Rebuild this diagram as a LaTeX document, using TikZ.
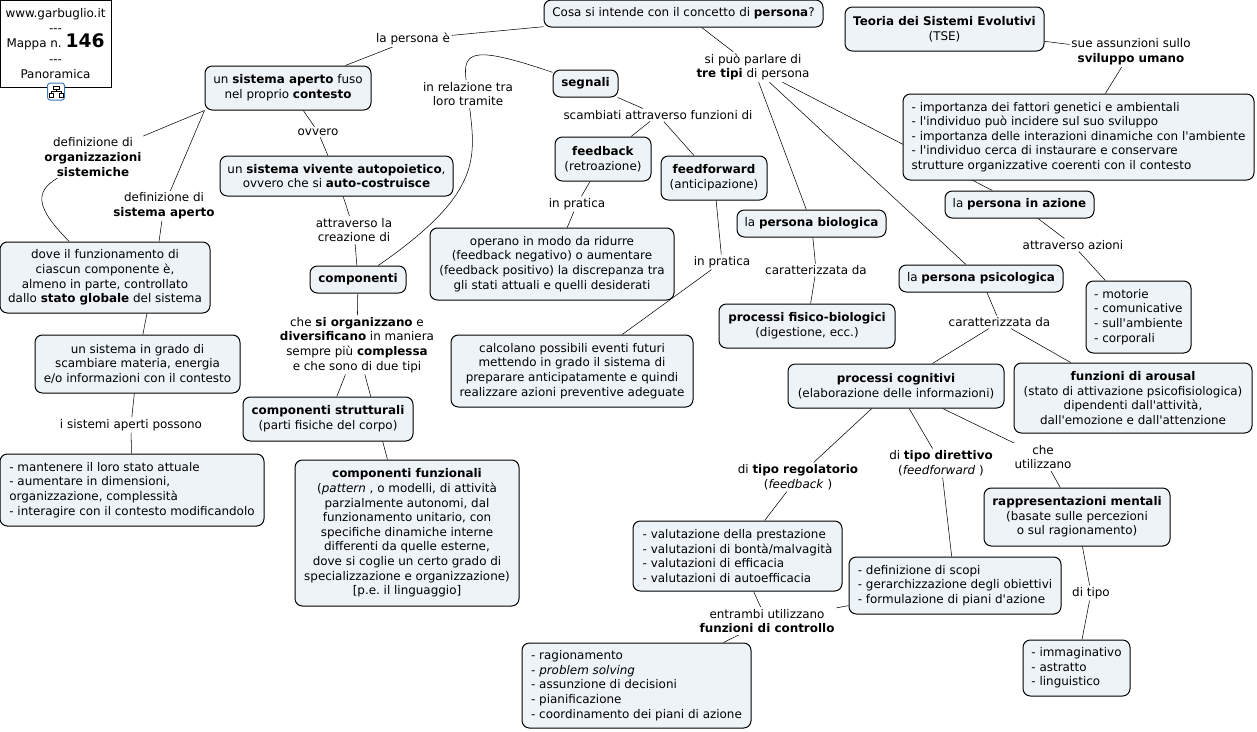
\documentclass[tikz,border=0pt]{standalone}
\usepackage{fontspec}
\setmainfont[Ligatures=TeXOff]{DejaVu Sans}
\usepackage{xcolor}
\usepackage{tikz}
\usetikzlibrary{backgrounds}
\definecolor{boxfill}{HTML}{EDF3F6}
\definecolor{iconblue}{HTML}{3A78B8}
\tikzset{
  mapfont/.style={font=\fontsize{8.95}{10.95}\selectfont},
  boxsize/.style 2 args={minimum width=#1*0.75pt,minimum height=#2*0.75pt},
  conceptbox/.style={draw=black,line width=0.75pt,fill=boxfill,rounded corners=5.5pt,inner sep=0pt,mapfont,align=center},
  listbox/.style={conceptbox,align=left},
  linklabel/.style={fill=white,inner sep=1.2pt,mapfont,align=center},
  maplink/.style={line width=0.75pt,black}
}
\frenchspacing
\begin{document}
\begin{tikzpicture}[x=0.75pt,y=-0.75pt]
\useasboundingbox (0,0) rectangle (1257,732);
% site box with the map number
\node[draw=black,line width=0.75pt,fill=white,inner sep=0pt,mapfont,align=center,boxsize={111}{87}] (siteBox) at (55.5,43.5)
  {www.garbuglio.it\\---\\[1pt]Mappa n. {\fontsize{14}{14}\selectfont\bfseries 146}\\[1pt]---\\Panoramica};
\node[draw=iconblue,line width=0.75pt,fill=white,rounded corners=2pt,inner sep=0pt,boxsize={17}{17}] (siteIcon) at (56,91.5) {};
\draw[line width=0.5pt] (53,86) rectangle (59,89) (56,89)--(56,91) (51,91)--(61,91) (51,91)--(51,93) (61,91)--(61,93) (49,93) rectangle (53,97) (59,93) rectangle (63,97);
% top question and the two branches
\node[conceptbox,boxsize={279}{27}] (persona) at (683.5,13.5) {Cosa si intende con il concetto di \textbf{persona}?};
\node[linklabel] (personaIs) at (413,39) {la persona è};
\node[linklabel] (treTipi) at (753,67) {si può parlare di\\\textbf{tre tipi} di persona};
% theory box and its list
\node[conceptbox,boxsize={199}{44}] (tse) at (944.5,29) {\textbf{Teoria dei Sistemi Evolutivi}\\(TSE)};
\node[linklabel] (assunzioni) at (1131,52) {sue assunzioni sullo\\\textbf{sviluppo umano}};
\node[listbox,boxsize={351}{86}] (tseList) at (1078.5,137) {- importanza dei fattori genetici e ambientali\\- l'individuo può incidere sul suo sviluppo\\- importanza delle interazioni dinamiche con l'ambiente\\- l'individuo cerca di instaurare e conservare\\strutture organizzative coerenti con il contesto};
% persona in azione
\node[conceptbox,boxsize={149}{27}] (azione) at (1019.5,204.5) {la \textbf{persona in azione}};
\node[linklabel] (azioniLink) at (1073,245) {attraverso azioni};
\node[listbox,boxsize={105}{72}] (azioniList) at (1138.5,317) {- motorie\\- comunicative\\- sull'ambiente\\- corporali};
% persona biologica
\node[conceptbox,boxsize={149}{27}] (biologica) at (811.5,223.5) {la \textbf{persona biologica}};
\node[linklabel] (bioLink) at (816,270) {caratterizzata da};
\node[conceptbox,boxsize={176}{44}] (fisico) at (807,326) {\textbf{processi fisico-biologici}\\(digestione, ecc.)};
% persona psicologica
\node[conceptbox,boxsize={164}{27}] (psicologica) at (981,278.5) {la \textbf{persona psicologica}};
\node[linklabel] (psiLink) at (999.5,322) {caratterizzata da};
\node[conceptbox,boxsize={216}{44}] (cognitivi) at (896,386) {\textbf{processi cognitivi}\\(elaborazione delle informazioni)};
\node[conceptbox,boxsize={238}{70}] (arousal) at (1133,398) {\textbf{funzioni di arousal}\\(stato di attivazione psicofisiologica)\\dipendenti dall'attività,\\dall'emozione e dall'attenzione};
\node[linklabel] (regolatorio) at (798,477) {di \textbf{tipo regolatorio}\\(\textit{feedback} )};
\node[linklabel] (direttivo) at (941,463) {di \textbf{tipo direttivo}\\(\textit{feedforward} )};
\node[linklabel] (utilizzano) at (1043,457) {che\\utilizzano};
\node[conceptbox,boxsize={186}{58}] (mentali) at (1077,517) {\textbf{rappresentazioni mentali}\\(basate sulle percezioni\\o sul ragionamento)};
\node[linklabel] (diTipo) at (1091,593) {di tipo};
\node[listbox,boxsize={107}{56}] (tipoList) at (1076.5,668) {- immaginativo\\- astratto\\- linguistico};
\node[listbox,boxsize={209}{70}] (valutazioni) at (737.5,556) {- valutazione della prestazione\\- valutazioni di bontà/malvagità\\- valutazioni di efficacia\\- valutazioni di autoefficacia};
\node[listbox,boxsize={212}{57}] (scopi) at (955,585.5) {- definizione di scopi\\- gerarchizzazione degli obiettivi\\- formulazione di piani d'azione};
\node[linklabel] (entrambi) at (767,621) {entrambi utilizzano\\\textbf{funzioni di controllo}};
\node[listbox,boxsize={229}{85}] (controllo) at (636.5,685.5) {- ragionamento\\- \textit{problem solving}\\- assunzione di decisioni\\- pianificazione\\- coordinamento dei piani di azione};
% sistema aperto, left side
\node[conceptbox,boxsize={166}{44}] (aperto) at (288,88) {un \textbf{sistema aperto} fuso\\nel proprio \textbf{contesto}};
\node[linklabel] (defOrg) at (93,157) {definizione di\\\textbf{organizzazioni}\\\textbf{sistemiche}};
\node[linklabel] (defAperto) at (164,206) {definizione di\\\textbf{sistema aperto}};
\node[conceptbox,boxsize={210}{71}] (globale) at (105,277.5) {dove il funzionamento di\\ciascun componente è,\\almeno in parte, controllato\\dallo \textbf{stato globale} del sistema};
\node[conceptbox,boxsize={205}{58}] (scambio) at (137.5,364) {un sistema in grado di\\scambiare materia, energia\\e/o informazioni con il contesto};
\node[linklabel] (possono) at (131,425) {i sistemi aperti possono};
\node[listbox,boxsize={264}{72}] (aperti) at (132,490) {- mantenere il loro stato attuale\\- aumentare in dimensioni,\\organizzazione, complessità\\- interagire con il contesto modificandolo};
% sistema vivente and its components
\node[linklabel] (ovvero) at (318,132) {ovvero};
\node[conceptbox,boxsize={233}{40}] (vivente) at (336.5,176) {un \textbf{sistema vivente autopoietico},\\ovvero che si \textbf{auto-costruisce}};
\node[linklabel] (creazione) at (354,230) {attraverso la\\creazione di};
\node[conceptbox,boxsize={96}{27}] (componenti) at (358,279.5) {\textbf{componenti}};
\node[linklabel] (organizzano) at (357,345) {che \textbf{si organizzano} e\\\textbf{diversificano} in maniera\\sempre più \textbf{complessa}\\e che sono di due tipi};
\node[conceptbox,boxsize={170}{44}] (strutturali) at (328,419) {\textbf{componenti strutturali}\\(parti fisiche del corpo)};
\node[conceptbox,boxsize={224}{146}] (funzionali) at (407,533) {\textbf{componenti funzionali}\\(\textit{pattern} , o modelli, di attività\\parzialmente autonomi, dal\\funzionamento unitario, con\\specifiche dinamiche interne\\differenti da quelle esterne,\\dove si coglie un certo grado di\\specializzazione e organizzazione)\\{[p.e. il linguaggio]}};
% signals
\node[linklabel] (relazione) at (468,94) {in relazione tra\\loro tramite};
\node[conceptbox,boxsize={65}{27}] (segnali) at (585.5,83.5) {\textbf{segnali}};
\node[linklabel] (scambiati) at (658,115) {scambiati attraverso funzioni di};
\node[conceptbox,boxsize={96}{44}] (feedback) at (603,159) {\textbf{feedback}\\(retroazione)};
\node[conceptbox,boxsize={106}{44}] (feedforward) at (714,178) {\textbf{feedforward}\\(anticipazione)};
\node[linklabel] (praticaA) at (577,204) {in pratica};
\node[linklabel] (praticaB) at (722,262) {in pratica};
\node[conceptbox,boxsize={244}{72}] (operano) at (552,264) {operano in modo da ridurre\\(feedback negativo) o aumentare\\(feedback positivo) la discrepanza tra\\gli stati attuali e quelli desiderati};
\node[conceptbox,boxsize={242}{72}] (calcolano) at (572,371) {calcolano possibili eventi futuri\\mettendo in grado il sistema di\\preparare anticipatamente e quindi\\realizzare azioni preventive adeguate};
% connectors, behind the boxes
\begin{scope}[on background layer,maplink]
\draw (persona) -- (personaIs) -- (aperto);
\draw (persona) -- (treTipi);
\draw (treTipi) -- (biologica);
\draw (treTipi) -- (psicologica);
\draw (treTipi) -- (azione);
\draw (tse) -- (assunzioni) -- (tseList);
\draw (azione) -- (azioniLink) -- (azioniList);
\draw (biologica) -- (bioLink) -- (fisico);
\draw (psicologica) -- (psiLink);
\draw (psiLink) -- (cognitivi);
\draw (psiLink) -- (arousal);
\draw (cognitivi) -- (regolatorio) -- (valutazioni);
\draw (cognitivi) -- (direttivo) -- (scopi);
\draw (cognitivi) -- (utilizzano) -- (mentali);
\draw (mentali) -- (diTipo) -- (tipoList);
\draw (valutazioni) -- (entrambi);
\draw (scopi) -- (entrambi);
\draw (entrambi) -- (controllo);
\draw (aperto.south west) -- (defOrg);
\draw (aperto.south west) -- (defAperto);
\draw (defAperto) -- ([xshift=40.5pt]globale.north);
\draw (defOrg) .. controls (34,192) and (36,208) .. (globale);
\draw ([xshift=31.5pt]globale.south) -- ([xshift=4pt]scambio.north);
\draw (scambio) -- (possono) -- (aperti);
\draw (aperto) -- (ovvero) -- (vivente) -- (creazione) -- (componenti);
\draw (componenti) -- (organizzano);
\draw (organizzano) -- (strutturali);
\draw (organizzano) -- (funzionali);
\draw (segnali) .. controls (475,46) and (462,50) .. (relazione);
\draw (relazione) .. controls (476,160) and (480,195) .. (componenti);
\draw (segnali) -- (scambiati);
\draw (scambiati) -- (feedback);
\draw (scambiati) -- (feedforward);
\draw (feedback) -- (praticaA) -- (operano);
\draw (feedforward) -- (praticaB) -- (calcolano);
\end{scope}
\end{tikzpicture}
\end{document}
